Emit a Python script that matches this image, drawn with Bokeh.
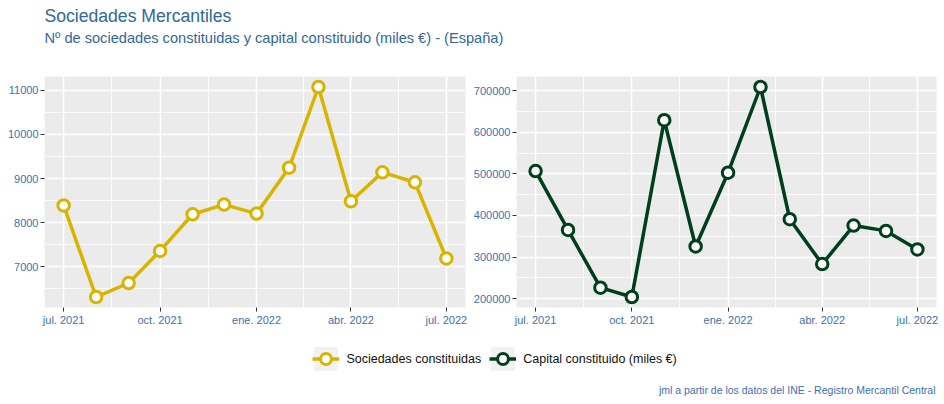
import pandas as pd
from bokeh.plotting import figure
from bokeh.layouts import column, row
from bokeh.models import (Range1d, FixedTicker, BasicTickFormatter, Label, Legend,
                          LegendItem, ColumnDataSource)
from bokeh.embed import file_html
from bokeh.resources import INLINE

# ---------------- data ----------------
months = ["2021-07-01", "2021-08-01", "2021-09-01", "2021-10-01", "2021-11-01",
          "2021-12-01", "2022-01-01", "2022-02-01", "2022-03-01", "2022-04-01",
          "2022-05-01", "2022-06-01", "2022-07-01"]
sociedades = [8390, 6315, 6630, 7360, 8190, 8410, 8205, 9245, 11075, 8485, 9140, 8915, 7190]
capital = [506700, 365300, 226400, 204000, 628900, 325400, 502700, 708800,
           390900, 283100, 375700, 362900, 318200]
xtick_dates = ["2021-07-01", "2021-10-01", "2022-01-01", "2022-04-01", "2022-07-01"]
xtick_labels = ["jul. 2021", "oct. 2021", "ene. 2022", "abr. 2022", "jul. 2022"]
soc_ticks = [7000, 8000, 9000, 10000, 11000]
cap_ticks = [200000, 300000, 400000, 500000, 600000, 700000]
series_names = ["Sociedades constituidas", "Capital constituido (miles €)"]
title_text = "Sociedades Mercantiles"
subtitle_text = "Nº de sociedades constituidas y capital constituido (miles €) - (España)"
caption_text = "jml a partir de los datos del INE - Registro Mercantil Central"

# ---------------- style ----------------
FONT = "Liberation Sans"
GOLD = "#D8B400"
GREEN = "#003F1C"
TITLE_COL = "#30679E"
TICK_COL = "#3B70B4"
PANEL_BG = "#EBEBEB"

xms = [pd.Timestamp(m).value // 10**6 for m in months]


def ms(s):
    return pd.Timestamp(s).value // 10**6


def mids(t):
    step = t[1] - t[0]
    full = [t[0] - step] + list(t) + [t[-1] + step]
    return [(a + b) / 2 for a, b in zip(full[:-1], full[1:])]


def panel(values, color, yticks, width, b_left, b_right):
    xspan = xms[-1] - xms[0]
    ymin, ymax = min(values), max(values)
    yspan = ymax - ymin
    p = figure(width=width, height=261, output_backend="svg", toolbar_location=None,
               x_range=Range1d(xms[0] - 0.05 * xspan, xms[-1] + 0.05 * xspan),
               y_range=Range1d(ymin - 0.05 * yspan, ymax + 0.05 * yspan),
               min_border_left=b_left, min_border_right=b_right,
               min_border_top=8, min_border_bottom=22)
    p.background_fill_color = PANEL_BG
    p.border_fill_color = "white"
    p.outline_line_color = None
    src = ColumnDataSource(dict(x=xms, y=values))
    p.line("x", "y", source=src, line_color=color, line_width=3.5)
    p.scatter("x", "y", source=src, size=11.5, fill_color="white",
              line_color=color, line_width=3)
    xt = [ms(d) for d in xtick_dates]
    xminor = [(a + b) / 2 for a, b in zip(xt[:-1], xt[1:])]
    p.xaxis.ticker = FixedTicker(ticks=xt, minor_ticks=xminor)
    p.xaxis.major_label_overrides = {t: l for t, l in zip(xt, xtick_labels)}
    p.yaxis.ticker = FixedTicker(ticks=yticks, minor_ticks=mids(yticks))
    p.yaxis.formatter = BasicTickFormatter(use_scientific=False)
    for ax in (p.xaxis[0], p.yaxis[0]):
        ax.axis_line_color = None
        ax.major_tick_line_color = "#333333"
        ax.major_tick_out = 4
        ax.major_tick_in = 0
        ax.minor_tick_line_color = None
        ax.major_label_text_color = TICK_COL
        ax.major_label_text_font = FONT
        ax.major_label_text_font_size = "11px"
        ax.major_label_standoff = 2
    for g in (p.xgrid[0], p.ygrid[0]):
        g.grid_line_color = "white"
        g.grid_line_width = 1.6
        g.minor_grid_line_color = "white"
        g.minor_grid_line_width = 0.8
    return p


left = panel(sociedades, GOLD, soc_ticks, 470, 44, 5)
right = panel(capital, GREEN, cap_ticks, 474, 46, 8)

# ---------------- header ----------------
header = figure(width=944, height=68, output_backend="svg", toolbar_location=None,
                x_range=Range1d(0, 944), y_range=Range1d(0, 68),
                x_axis_location=None, y_axis_location=None, min_border=0)
header.grid.visible = False
header.outline_line_color = None
header.add_layout(Label(x=44, y=53, text=title_text, text_font=FONT,
                        text_font_size="17.6px", text_color=TITLE_COL,
                        text_baseline="alphabetic"))
header.add_layout(Label(x=44, y=30.5, text=subtitle_text, text_font=FONT,
                        text_font_size="14.6px", text_color=TITLE_COL,
                        text_baseline="alphabetic"))

# ---------------- footer (legend + caption) ----------------
footer = figure(width=944, height=75, output_backend="svg", toolbar_location=None,
                x_range=Range1d(0, 944), y_range=Range1d(0, 75),
                x_axis_location=None, y_axis_location=None, min_border=0)
footer.grid.visible = False
footer.outline_line_color = None
items = []
for name, color, vals in zip(series_names, [GOLD, GREEN], [sociedades, capital]):
    # series placed far outside this strip's ranges: only their legend keys show
    src = ColumnDataSource(dict(x=xms, y=vals))
    bg = footer.rect("x", "y", width=1, height=1, source=src,
                     fill_color="#F2F2F2", line_color="#F2F2F2", line_width=2.4)
    ln = footer.line("x", "y", source=src, line_color=color, line_width=3.5)
    sc = footer.scatter("x", "y", source=src, size=10, fill_color="white",
                        line_color=color, line_width=3)
    items.append(LegendItem(label=name, renderers=[bg, ln, sc]))
legend = Legend(items=items, orientation="horizontal", location=(312.4, 31.8),
                glyph_width=27, glyph_height=27, label_standoff=7, spacing=8,
                padding=0, margin=0, border_line_color=None, background_fill_alpha=0,
                label_text_font=FONT, label_text_font_size="12.5px",
                label_text_color="#111111")
footer.add_layout(legend)
footer.add_layout(Label(x=935, y=15, text=caption_text, text_font=FONT,
                        text_font_size="10.5px", text_color=TICK_COL,
                        text_align="right", text_baseline="alphabetic"))

layout = column(header, row(left, right), footer)
open("out.html", "w").write(file_html(layout, INLINE))
